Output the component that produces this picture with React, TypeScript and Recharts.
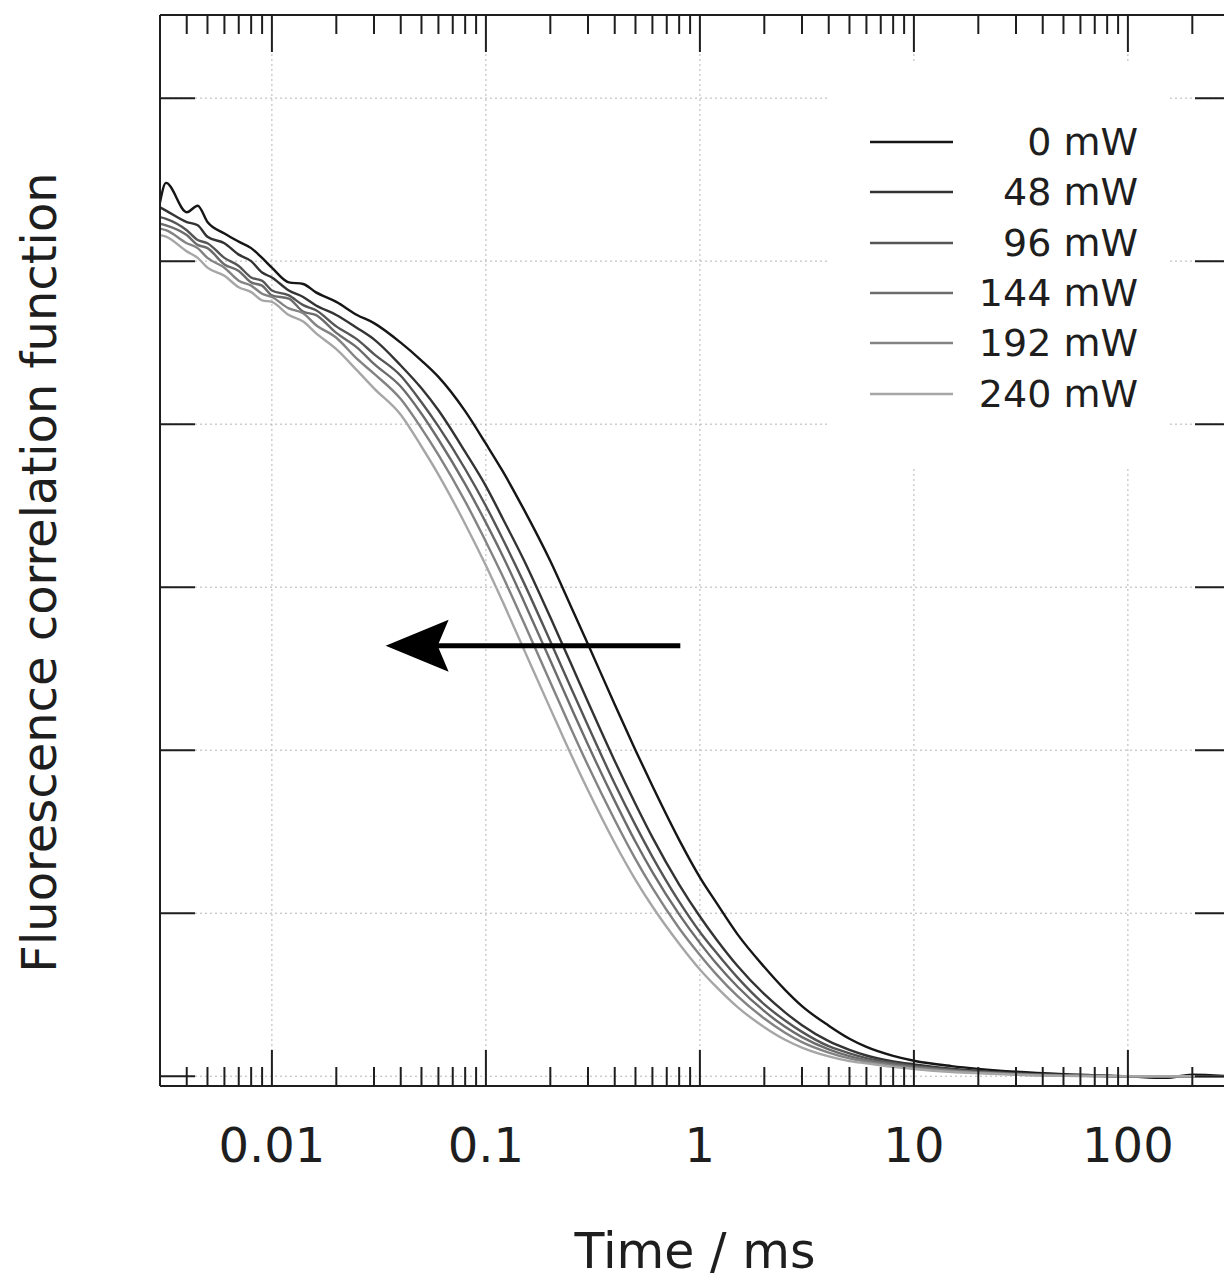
import React from 'react'
import {
  LineChart,
  Line,
  XAxis,
  YAxis,
  CartesianGrid,
  Legend,
  ReferenceLine,
} from 'recharts'

// lag time (ms)
const tau = [
  0.003, 0.0032, 0.004, 0.0045, 0.005, 0.006, 0.007, 0.008, 0.009, 0.01,
  0.012, 0.014, 0.016, 0.02, 0.025, 0.03, 0.04, 0.05, 0.06, 0.08,
  0.1, 0.12, 0.15, 0.2, 0.25, 0.3, 0.4, 0.5, 0.6, 0.8,
  1, 1.2, 1.5, 2, 2.5, 3, 4, 5, 6, 8,
  10, 15, 20, 30, 50, 100, 150, 200, 300,
]

const g0mW = [
  0.536, 0.548, 0.530, 0.534, 0.524, 0.517, 0.512, 0.508, 0.502, 0.496,
  0.487, 0.486, 0.481, 0.475, 0.467, 0.462, 0.450, 0.439, 0.429, 0.408,
  0.388, 0.371, 0.348, 0.316, 0.288, 0.265, 0.228, 0.200, 0.178, 0.145,
  0.122, 0.106, 0.087, 0.067, 0.053, 0.043, 0.031, 0.023, 0.018, 0.0125,
  0.0095, 0.0062, 0.0045, 0.0027, 0.0012, 0.0, -0.001, 0.001, 0.0,
]
const g48mW = [
  0.533, 0.531, 0.524, 0.522, 0.515, 0.511, 0.504, 0.500, 0.493, 0.490,
  0.482, 0.478, 0.473, 0.467, 0.459, 0.452, 0.436, 0.422, 0.4085, 0.383,
  0.362, 0.342, 0.317, 0.2815, 0.253, 0.2296, 0.1934, 0.167, 0.1465, 0.1176,
  0.098, 0.0836, 0.0676, 0.0503, 0.0392, 0.0313, 0.0215, 0.0162, 0.0127, 0.0091,
  0.0073, 0.0046, 0.0033, 0.0019, 0.0008, 0.0, 0.0, 0.0, 0.0,
]
const g96mW = [
  0.527, 0.526, 0.519, 0.513, 0.511, 0.502, 0.497, 0.490, 0.488, 0.482,
  0.479, 0.473, 0.470, 0.460, 0.452, 0.443, 0.4297, 0.4134, 0.3986, 0.3725,
  0.3498, 0.3294, 0.3031, 0.2668, 0.2381, 0.215, 0.1794, 0.154, 0.1346, 0.1071,
  0.0885, 0.0754, 0.0605, 0.0441, 0.0342, 0.0272, 0.0184, 0.014, 0.0111, 0.0081,
  0.0063, 0.004, 0.0027, 0.0016, 0.0006, 0.0, 0.0, 0.0, 0.0,
]
const g144mW = [
  0.523, 0.522, 0.516, 0.510, 0.508, 0.498, 0.494, 0.487, 0.485, 0.479,
  0.477, 0.469, 0.467, 0.456, 0.447, 0.437, 0.4231, 0.4064, 0.3906, 0.3632,
  0.3396, 0.319, 0.2917, 0.255, 0.2263, 0.2033, 0.1689, 0.1438, 0.1252, 0.0993,
  0.0818, 0.0688, 0.0549, 0.0399, 0.0303, 0.024, 0.0165, 0.0123, 0.0099, 0.0074,
  0.0057, 0.0036, 0.0025, 0.0013, 0.0005, 0.0, 0.0, 0.0, 0.0,
]
const g192mW = [
  0.520, 0.519, 0.511, 0.508, 0.502, 0.496, 0.488, 0.485, 0.480, 0.478,
  0.471, 0.468, 0.461, 0.453, 0.440, 0.431, 0.4154, 0.3974, 0.3811, 0.3526,
  0.3279, 0.3065, 0.2786, 0.2417, 0.2132, 0.1906, 0.1572, 0.1332, 0.1155, 0.0908,
  0.0744, 0.0622, 0.0491, 0.0354, 0.0267, 0.0209, 0.0145, 0.0109, 0.0089, 0.0065,
  0.0051, 0.0032, 0.0022, 0.0011, 0.0003, 0.0, 0.0, 0.0, 0.0,
]
const g240mW = [
  0.516, 0.515, 0.506, 0.502, 0.496, 0.491, 0.484, 0.481, 0.476, 0.475,
  0.467, 0.463, 0.456, 0.446, 0.433, 0.422, 0.4058, 0.3863, 0.3691, 0.3388,
  0.3133, 0.2909, 0.2623, 0.2255, 0.1973, 0.1754, 0.1431, 0.1205, 0.1041, 0.0813,
  0.0655, 0.0545, 0.0424, 0.0301, 0.0224, 0.0176, 0.0122, 0.0093, 0.0079, 0.0057,
  0.0044, 0.0026, 0.0018, 0.0009, 0.0002, 0.0, 0.0, 0.0, 0.0,
]

const seriesNames = ['0 mW', '48 mW', '96 mW', '144 mW', '192 mW', '240 mW']
const seriesColors = ['#161616', '#333333', '#555555', '#6c6c6c', '#838383', '#a6a6a6']
const seriesValues = [g0mW, g48mW, g96mW, g144mW, g192mW, g240mW]

const decadeTicks = [0.01, 0.1, 1, 10, 100]
const decadeLabels = ['0.01', '0.1', '1', '10', '100']
const minorTicks = [
  0.004, 0.005, 0.006, 0.007, 0.008, 0.009,
  0.02, 0.03, 0.04, 0.05, 0.06, 0.07, 0.08, 0.09,
  0.2, 0.3, 0.4, 0.5, 0.6, 0.7, 0.8, 0.9,
  2, 3, 4, 5, 6, 7, 8, 9,
  20, 30, 40, 50, 60, 70, 80, 90,
  200,
]
const yTicks = [0, 0.1, 0.2, 0.3, 0.4, 0.5, 0.6]

// arrow annotation (tail -> head), in data units
const arrowFrom = { x: 0.81, y: 0.264 }
const arrowTo = { x: 0.034, y: 0.264 }

const xTicks = [...minorTicks, ...decadeTicks].sort((a, b) => a - b)
const data = tau.map((t, i) => {
  const row: Record<string, number> = { tau: t }
  seriesValues.forEach((s, k) => {
    row['s' + k] = s[i]
  })
  return row
})

const FONT = '"DejaVu Sans", Verdana, sans-serif'
const INK = '#1e1e1e'
const GRID = '#b4b4b4'

const decadeIndex = (v: number) => decadeTicks.findIndex((d) => Math.abs(d - v) / d < 1e-6)

function BottomTick(props: any) {
  const { x, y, payload } = props
  const i = decadeIndex(payload.value)
  return (
    <g>
      <line x1={x} y1={y} x2={x} y2={y - (i >= 0 ? 36 : 19)} stroke={INK} strokeWidth={2} />
      {i >= 0 && (
        <text x={x} y={y + 76} textAnchor="middle" fontSize={48} fontFamily={FONT} fill={INK}>
          {decadeLabels[i]}
        </text>
      )}
    </g>
  )
}

function TopTick(props: any) {
  const { x, y, payload } = props
  const major = decadeIndex(payload.value) >= 0
  return <line x1={x} y1={y} x2={x} y2={y + (major ? 37 : 19)} stroke={INK} strokeWidth={2} />
}

function LeftTick(props: any) {
  const { x, y } = props
  return <line x1={x} y1={y} x2={x + 35} y2={y} stroke={INK} strokeWidth={2} />
}

function RightTick(props: any) {
  const { x, y } = props
  return <line x1={x} y1={y} x2={x - 35} y2={y} stroke={INK} strokeWidth={2} />
}

function Arrow(props: any) {
  const { x1, y1, x2, y2 } = props
  const y = (y1 + y2) / 2
  return (
    <g>
      <line x1={x1} y1={y} x2={x2 + 50} y2={y} stroke="#000" strokeWidth={5} />
      <polygon
        points={`${x2},${y} ${x2 + 63},${y - 26} ${x2 + 52},${y} ${x2 + 63},${y + 26}`}
        fill="#000"
      />
    </g>
  )
}

function LegendBox(props: any) {
  const items = [...(props.payload || [])].sort(
    (a: any, b: any) => seriesNames.indexOf(a.value) - seriesNames.indexOf(b.value),
  )
  return (
    <div style={{ background: '#fff', width: 338, height: 404, paddingTop: 55, boxSizing: 'border-box' }}>
      {items.map((e: any) => (
        <div key={e.value} style={{ display: 'flex', alignItems: 'center', height: 50.3 }}>
          <svg width={83} height={4} style={{ marginLeft: 40, display: 'block' }}>
            <line x1={0} y1={2} x2={83} y2={2} stroke={e.color} strokeWidth={2.4} />
          </svg>
          <span
            style={{
              flex: 1,
              textAlign: 'right',
              paddingRight: 30,
              fontSize: 38,
              fontFamily: FONT,
              color: INK,
              lineHeight: '50px',
            }}
          >
            {e.value}
          </span>
        </div>
      ))}
    </div>
  )
}

function YTitle(props: any) {
  const vb = props.viewBox || { x: 0, y: 15, width: 160, height: 1071 }
  const cx = vb.x + 56
  const cy = vb.y + vb.height / 2 + 22
  return (
    <text
      x={cx}
      y={cy}
      transform={`rotate(-90, ${cx}, ${cy})`}
      textAnchor="middle"
      fontSize={48}
      fontFamily={FONT}
      fill={INK}
    >
      Fluorescence correlation function
    </text>
  )
}

function XTitle(props: any) {
  const vb = props.viewBox || { x: 160, y: 1086, width: 1070, height: 193 }
  return (
    <text
      x={vb.x + vb.width / 2}
      y={vb.y + 182}
      textAnchor="middle"
      fontSize={49}
      fontFamily={FONT}
      fill={INK}
    >
      Time / ms
    </text>
  )
}

export default function App() {
  return (
    <div
      style={{
        position: 'absolute',
        left: 0,
        top: 0,
        width: 1224,
        height: 1279,
        overflow: 'hidden',
        background: '#fff',
      }}
    >
      <LineChart width={1240} height={1279} data={data} margin={{ top: 14, right: 9, bottom: 0, left: 0 }}>
        <CartesianGrid vertical={false} stroke={GRID} strokeDasharray="2 3" />
        {decadeTicks.map((d) => (
          <ReferenceLine key={d} x={d} stroke={GRID} strokeDasharray="2 3" />
        ))}
        <XAxis
          dataKey="tau"
          type="number"
          scale="log"
          domain={[0.003, 300]}
          allowDataOverflow
          ticks={xTicks}
          interval={0}
          height={193}
          tickSize={0}
          tickMargin={0}
          tickLine={false}
          axisLine={{ stroke: INK, strokeWidth: 2 }}
          tick={(p: any) => <BottomTick {...p} />}
          label={(p: any) => <XTitle {...p} />}
        />
        <XAxis
          xAxisId="top"
          orientation="top"
          dataKey="tau"
          type="number"
          scale="log"
          domain={[0.003, 300]}
          allowDataOverflow
          ticks={xTicks}
          interval={0}
          height={1}
          tickSize={0}
          tickMargin={0}
          tickLine={false}
          axisLine={{ stroke: INK, strokeWidth: 2 }}
          tick={(p: any) => <TopTick {...p} />}
        />
        <YAxis
          type="number"
          domain={[-0.006, 0.651]}
          allowDataOverflow
          ticks={yTicks}
          interval={0}
          width={160}
          tickSize={0}
          tickMargin={0}
          tickLine={false}
          axisLine={{ stroke: INK, strokeWidth: 2 }}
          tick={(p: any) => <LeftTick {...p} />}
          label={(p: any) => <YTitle {...p} />}
        />
        <YAxis
          yAxisId="right"
          orientation="right"
          type="number"
          domain={[-0.006, 0.651]}
          allowDataOverflow
          ticks={yTicks}
          interval={0}
          width={1}
          tickSize={0}
          tickMargin={0}
          tickLine={false}
          axisLine={{ stroke: INK, strokeWidth: 2 }}
          tick={(p: any) => <RightTick {...p} />}
        />
        {seriesNames.map((name, k) => (
          <Line
            key={name}
            type="monotone"
            dataKey={'s' + k}
            name={name}
            stroke={seriesColors[k]}
            strokeWidth={2.4}
            dot={false}
            activeDot={false}
            isAnimationActive={false}
          />
        ))}
        <ReferenceLine
          segment={[arrowFrom, arrowTo]}
          stroke="#000"
          shape={(p: any) => <Arrow {...p} />}
        />
        <Legend
          layout="vertical"
          align="center"
          verticalAlign="middle"
          content={(p: any) => <LegendBox {...p} />}
          wrapperStyle={{ position: 'absolute', left: 830, top: 62, width: 338, height: 404 }}
        />
      </LineChart>
    </div>
  )
}
